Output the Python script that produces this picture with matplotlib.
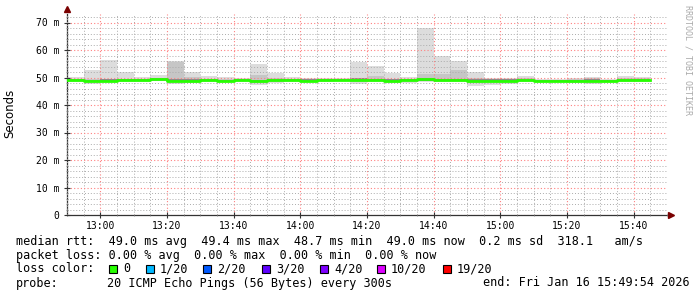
import matplotlib.pyplot as plt
import numpy as np
from matplotlib.patches import Rectangle

# 5 minute bins, minutes after 12:50
bin_start = np.arange(0, 175, 5)

# smoke (20 pings per bin): max, upper inner, median, lower inner, min  (ms)
ping_max = [50.1, 52.7, 56.4, 52.1, 50.3, 50.9, 56.1, 52.1, 50.5, 50.1,
            50.0, 55.0, 51.7, 50.1, 49.8, 49.8, 49.9, 55.8, 54.2, 51.7,
            50.1, 68.0, 57.9, 56.0, 52.0, 50.0, 49.8, 50.5, 49.6, 49.4,
            50.0, 50.2, 49.6, 50.5, 50.2]
ping_qhi = [49.6, 49.5, 49.6, 49.6, 49.5, 50.0, 55.8, 50.2, 49.6, 49.5,
            49.5, 50.9, 49.8, 49.6, 49.4, 49.4, 49.5, 50.0, 50.6, 49.6,
            49.5, 51.2, 51.3, 52.7, 49.8, 49.4, 49.4, 49.8, 49.2, 49.1,
            49.6, 49.8, 49.2, 49.9, 49.8]
median = [49.0, 48.7, 48.9, 49.1, 49.0, 49.4, 48.9, 48.9, 49.0, 48.8,
          49.0, 48.8, 49.1, 49.0, 48.9, 49.0, 49.1, 49.2, 49.0, 48.9,
          49.0, 49.3, 49.1, 49.0, 48.9, 48.9, 48.9, 49.0, 48.7, 48.7,
          48.8, 48.9, 48.7, 49.0, 49.0]
ping_qlo = [48.7, 48.3, 48.5, 48.7, 48.7, 48.9, 48.3, 48.4, 48.7, 48.5,
            48.7, 48.0, 48.5, 48.7, 48.6, 48.7, 48.8, 48.5, 48.6, 48.5,
            48.6, 48.8, 48.7, 48.6, 48.0, 48.2, 48.5, 48.6, 48.4, 48.4,
            48.4, 48.3, 48.4, 48.7, 48.7]
ping_min = [48.5, 47.6, 48.2, 48.4, 48.5, 48.6, 47.7, 48.0, 48.4, 48.3,
            48.5, 47.4, 48.0, 48.4, 48.4, 48.5, 48.6, 47.8, 48.3, 48.1,
            48.0, 48.4, 48.4, 48.2, 46.8, 47.1, 47.8, 48.3, 48.2, 48.2,
            48.0, 47.8, 48.2, 48.5, 48.5]

xtick_pos = [10, 30, 50, 70, 90, 110, 130, 150, 170]
xtick_labels = ['13:00', '13:20', '13:40', '14:00', '14:20', '14:40', '15:00', '15:20', '15:40']
ytick_pos = [0, 10, 20, 30, 40, 50, 60, 70]
ytick_labels = ['0', '10 m', '20 m', '30 m', '40 m', '50 m', '60 m', '70 m']

line_rtt = 'median rtt:  49.0 ms avg  49.4 ms max  48.7 ms min  49.0 ms now  0.2 ms sd  318.1   am/s'
line_loss = 'packet loss: 0.00 % avg  0.00 % max  0.00 % min  0.00 % now'
loss_labels = ['0', '1/20', '2/20', '3/20', '4/20', '10/20', '19/20']
loss_colors = ['#26ff00', '#00b8ff', '#0059ff', '#5e00ff', '#7e00ff', '#dd00ff', '#ff0000']
probe_text = '20 ICMP Echo Pings (56 Bytes) every 300s'
end_text = 'end: Fri Jan 16 15:49:54 2026'

W, H = 697, 297
def fx(px):
    return px / W
def fy(py):
    return 1 - py / H

mono = 'DejaVu Sans Mono'

fig = plt.figure(figsize=(W / 100, H / 100), dpi=100)
ax = fig.add_axes([fx(67), fy(215), fx(667) - fx(67), fy(14.25) - fy(215)])

edges = np.append(bin_start, bin_start[-1] + 5)
ext = lambda v: list(v) + [v[-1]]

ax.fill_between(edges, ext(ping_min), ext(ping_max), step='post', color='#dddddd', lw=0, zorder=1)
ax.fill_between(edges, ext(ping_qlo), ext(ping_qhi), step='post', color='#c6c6c6', lw=0, zorder=1.1)
ax.fill_between(edges, np.array(ext(median)) - 0.45, np.array(ext(median)) + 0.45,
                step='post', color='#8c8c8c', lw=0, zorder=1.2)
ax.step(edges, ext(median), where='post', color='#26ff00', lw=2, zorder=3)

ax.set_xlim(0, 180)
ax.set_ylim(0, 73)
ax.set_xticks(xtick_pos)
ax.set_xticklabels(xtick_labels)
ax.set_xticks(np.arange(0, 181, 5), minor=True)
ax.set_yticks(ytick_pos)
ax.set_yticklabels(ytick_labels)
ax.set_yticks(np.arange(0, 73, 2), minor=True)

ax.grid(which='minor', color=(0.67, 0.67, 0.67, 0.4), linestyle=(0, (1, 2)), lw=0.7)
ax.grid(which='major', color=(1, 0.5, 0.5, 0.5), linestyle=(0, (1, 2)), lw=0.8)
ax.set_axisbelow(False)

for s in ['top', 'right']:
    ax.spines[s].set_visible(False)
for s in ['left', 'bottom']:
    ax.spines[s].set_color('#333333')
    ax.spines[s].set_linewidth(0.9)

ax.tick_params(which='major', direction='inout', length=5, width=0.8, color='#333333',
               labelsize=7)
ax.tick_params(which='minor', direction='inout', length=2, width=0.5, color='#777777')
ax.tick_params(axis='y', pad=3)
ax.tick_params(axis='x', pad=2)
for lab in ax.get_xticklabels() + ax.get_yticklabels():
    lab.set_fontfamily(mono)

# axis arrows
ax.plot([0], [1.025], marker='^', color='#7a0000', ms=4, transform=ax.transAxes, clip_on=False)
ax.plot([1.006], [0], marker='>', color='#7a0000', ms=4, transform=ax.transAxes, clip_on=False)

fig.text(fx(10), fy(113), 'Seconds', rotation=90, ha='center', va='center', fontsize=8.5,
         family='DejaVu Sans')
fig.text(fx(688), fy(5), 'RRDTOOL / TOBI OETIKER', rotation=270, ha='center', va='top',
         fontsize=6, color='#aaaaaa', family=mono)

fig.text(fx(16), fy(244.5), line_rtt, family=mono, fontsize=8.5, va='baseline')
fig.text(fx(16), fy(258.5), line_loss, family=mono, fontsize=8.5, va='baseline')
fig.text(fx(16), fy(272.5), 'loss color:', family=mono, fontsize=8.5, va='baseline')
box_x = [109, 146, 203, 262, 320, 377, 443]
for bx, lab, col in zip(box_x, loss_labels, loss_colors):
    fig.add_artist(Rectangle((fx(bx), fy(273)), 8 / W, 8 / H, facecolor=col,
                             edgecolor='black', lw=0.8, transform=fig.transFigure))
    fig.text(fx(bx + 14), fy(272.5), lab, family=mono, fontsize=8.5, va='baseline')
fig.text(fx(16), fy(286.5), 'probe:', family=mono, fontsize=8.5, va='baseline')
fig.text(fx(107), fy(286.5), probe_text, family=mono, fontsize=8.5, va='baseline')
fig.text(fx(690), fy(286.5), end_text, family=mono, fontsize=8.5, va='baseline', ha='right')

fig.savefig('out.png', dpi=100)
